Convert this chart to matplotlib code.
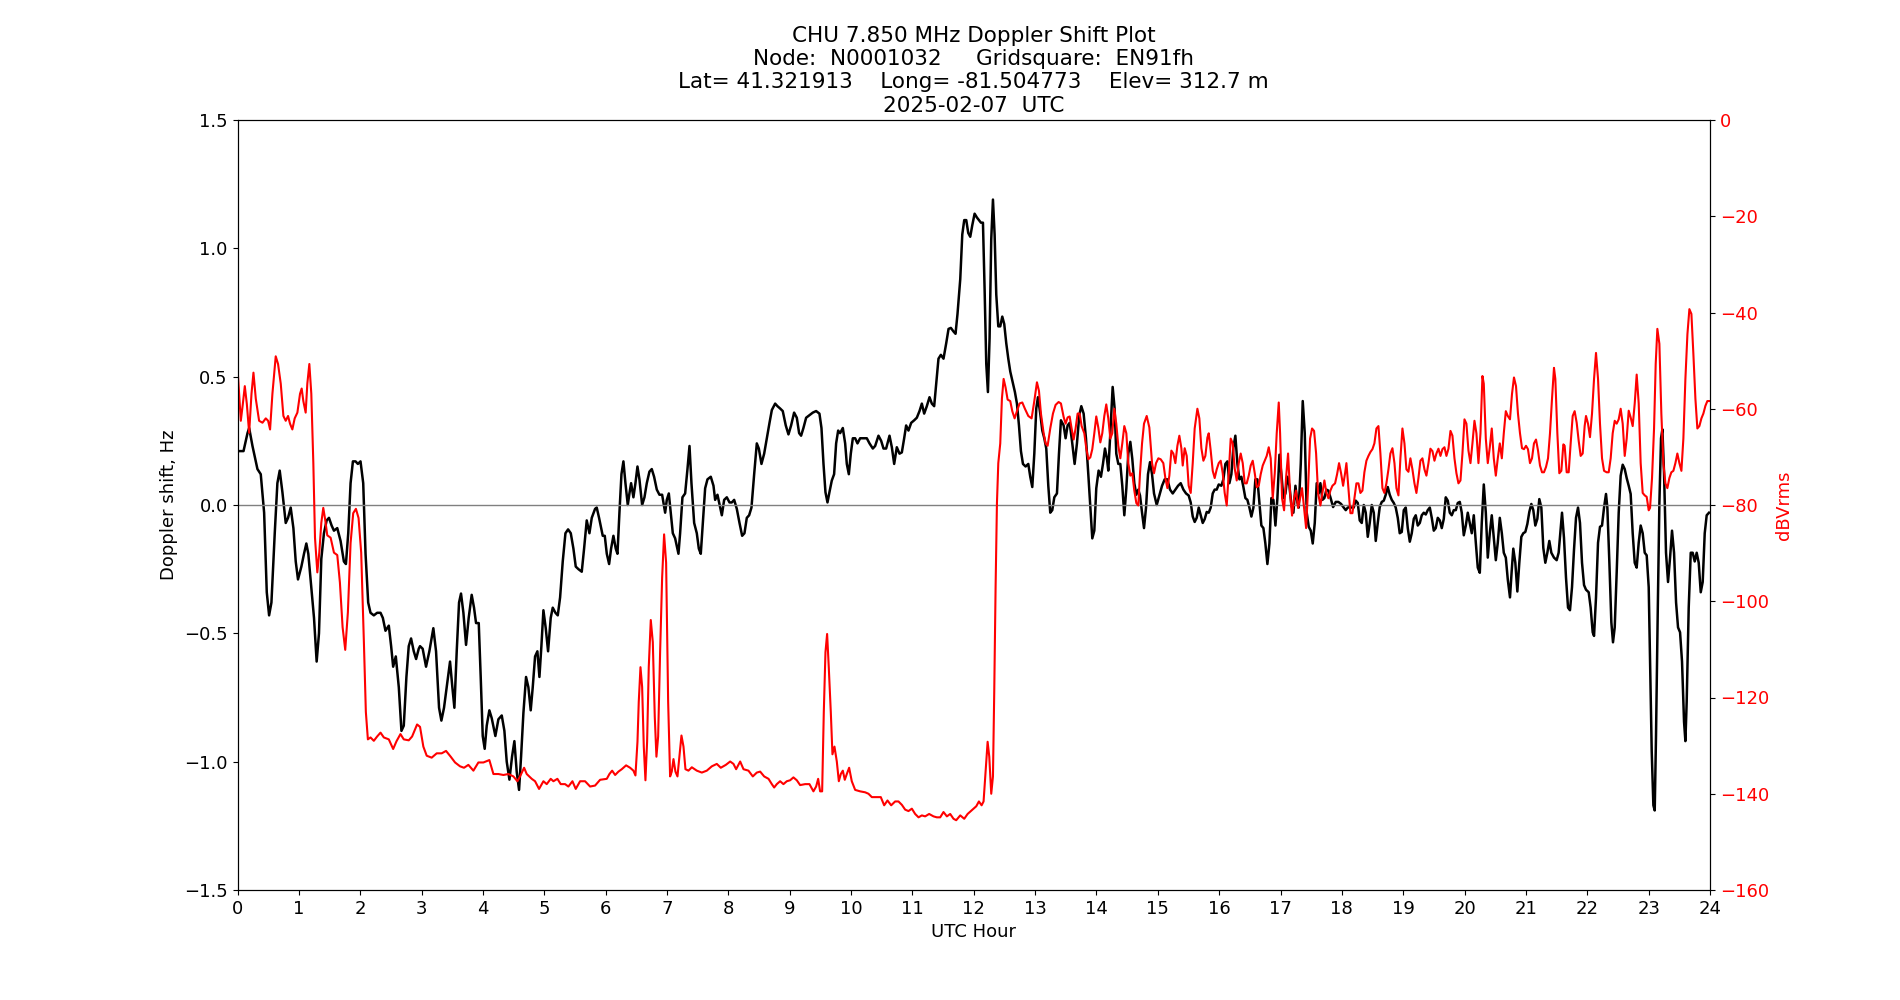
import matplotlib
matplotlib.use("Agg")
import matplotlib.pyplot as plt

# Doppler shift (Hz) vs UTC hour in 3-hour chunks
doppler_00_03 = [
    (0.0, 0.21), (0.098, 0.21), (0.163, 0.28), (0.19, 0.30), (0.244, 0.23), (0.325, 0.14),
    (0.379, 0.12), (0.434, -0.03), (0.477, -0.34), (0.515, -0.43), (0.553, -0.38), (0.607, -0.11),
    (0.650, 0.085), (0.688, 0.134), (0.732, 0.05), (0.786, -0.07), (0.824, -0.05), (0.867, -0.01),
    (0.911, -0.09), (0.949, -0.22), (0.986, -0.29), (1.041, -0.24), (1.084, -0.19), (1.122, -0.15),
    (1.154, -0.19), (1.203, -0.32), (1.247, -0.44), (1.290, -0.61), (1.328, -0.50), (1.366, -0.21),
    (1.409, -0.11), (1.453, -0.06), (1.491, -0.05), (1.534, -0.08), (1.572, -0.10), (1.626, -0.09),
    (1.680, -0.14), (1.734, -0.22), (1.767, -0.23), (1.805, -0.11), (1.843, 0.085), (1.881, 0.17),
    (1.924, 0.17), (1.962, 0.16), (2.005, 0.17), (2.049, 0.085), (2.087, -0.19), (2.130, -0.38),
    (2.168, -0.42), (2.222, -0.43), (2.276, -0.42), (2.331, -0.42), (2.369, -0.44), (2.412, -0.49),
    (2.466, -0.47), (2.504, -0.55), (2.537, -0.63), (2.580, -0.59), (2.629, -0.71), (2.672, -0.88),
    (2.710, -0.86), (2.753, -0.67), (2.791, -0.55), (2.829, -0.52), (2.873, -0.57), (2.911, -0.60),
    (2.954, -0.56),
]
doppler_03_06 = [
    (2.975, -0.55), (3.018, -0.56), (3.073, -0.63), (3.127, -0.57), (3.192, -0.48), (3.236, -0.57),
    (3.285, -0.79), (3.323, -0.84), (3.366, -0.79), (3.410, -0.71), (3.464, -0.61), (3.502, -0.71),
    (3.535, -0.79), (3.573, -0.57), (3.611, -0.38), (3.643, -0.345), (3.682, -0.42), (3.725, -0.545),
    (3.768, -0.44), (3.817, -0.35), (3.855, -0.40), (3.888, -0.46), (3.932, -0.46), (3.964, -0.67),
    (3.997, -0.90), (4.029, -0.95), (4.062, -0.86), (4.105, -0.80), (4.143, -0.83), (4.203, -0.90),
    (4.252, -0.835), (4.307, -0.82), (4.350, -0.88), (4.388, -1.0), (4.432, -1.07), (4.475, -0.98),
    (4.513, -0.92), (4.551, -1.04), (4.589, -1.11), (4.622, -0.98), (4.660, -0.81), (4.703, -0.67),
    (4.741, -0.71), (4.779, -0.80), (4.812, -0.71), (4.850, -0.59), (4.888, -0.57), (4.921, -0.67),
    (4.953, -0.55), (4.986, -0.41), (5.024, -0.48), (5.062, -0.57), (5.105, -0.44), (5.138, -0.40),
    (5.182, -0.42), (5.220, -0.43), (5.258, -0.36), (5.301, -0.22), (5.345, -0.11), (5.388, -0.095),
    (5.432, -0.11), (5.475, -0.17), (5.513, -0.24), (5.557, -0.25), (5.611, -0.26), (5.649, -0.17),
    (5.692, -0.06), (5.736, -0.11), (5.774, -0.05), (5.828, -0.015), (5.855, -0.01), (5.893, -0.05),
]
doppler_06_09 = [
    (5.910, -0.07), (5.953, -0.12), (5.986, -0.12), (6.019, -0.19), (6.057, -0.23), (6.089, -0.17),
    (6.127, -0.12), (6.165, -0.17), (6.193, -0.19), (6.225, -0.03), (6.258, 0.12), (6.290, 0.17),
    (6.323, 0.085), (6.361, 0.0), (6.388, 0.045), (6.415, 0.085), (6.453, 0.03), (6.486, 0.085),
    (6.519, 0.15), (6.551, 0.10), (6.595, 0.0), (6.633, 0.03), (6.671, 0.085), (6.714, 0.13),
    (6.752, 0.14), (6.790, 0.11), (6.834, 0.06), (6.877, 0.04), (6.921, 0.04), (6.970, -0.03),
    (6.997, 0.02), (7.030, 0.045), (7.062, -0.03), (7.095, -0.11), (7.133, -0.13), (7.187, -0.19),
    (7.214, -0.11), (7.252, 0.03), (7.296, 0.045), (7.334, 0.14), (7.367, 0.23), (7.399, 0.085),
    (7.443, -0.07), (7.486, -0.11), (7.519, -0.17), (7.551, -0.19), (7.584, -0.07), (7.622, 0.065),
    (7.660, 0.10), (7.714, 0.11), (7.758, 0.075), (7.785, 0.02), (7.823, 0.04), (7.867, -0.01),
    (7.894, -0.04), (7.932, 0.02), (7.975, 0.03), (8.019, 0.01), (8.057, 0.01), (8.095, 0.02),
    (8.138, -0.015), (8.182, -0.07), (8.225, -0.12), (8.263, -0.11), (8.301, -0.05), (8.339, -0.04),
    (8.377, -0.01), (8.421, 0.12), (8.464, 0.24), (8.497, 0.22), (8.540, 0.16), (8.584, 0.20),
    (8.627, 0.26), (8.671, 0.32), (8.709, 0.37), (8.763, 0.395), (8.801, 0.385),
]
doppler_09_12 = [
    (8.844, 0.376), (8.887, 0.366), (8.936, 0.31), (8.980, 0.275), (9.023, 0.31), (9.072, 0.36),
    (9.116, 0.34), (9.154, 0.28), (9.186, 0.27), (9.224, 0.30), (9.268, 0.34), (9.322, 0.35),
    (9.377, 0.36), (9.431, 0.366), (9.485, 0.356), (9.518, 0.30), (9.551, 0.16), (9.583, 0.05),
    (9.616, 0.01), (9.648, 0.05), (9.686, 0.095), (9.724, 0.12), (9.757, 0.24), (9.790, 0.29),
    (9.822, 0.28), (9.866, 0.30), (9.904, 0.24), (9.931, 0.16), (9.964, 0.12), (9.996, 0.20),
    (10.029, 0.26), (10.067, 0.26), (10.105, 0.24), (10.148, 0.26), (10.203, 0.26), (10.257, 0.26),
    (10.301, 0.24), (10.355, 0.22), (10.393, 0.23), (10.447, 0.27), (10.491, 0.25), (10.529, 0.22),
    (10.572, 0.22), (10.627, 0.27), (10.665, 0.225), (10.703, 0.16), (10.746, 0.225), (10.790, 0.20),
    (10.828, 0.205), (10.866, 0.26), (10.898, 0.31), (10.936, 0.29), (10.980, 0.32), (11.029, 0.33),
    (11.072, 0.34), (11.116, 0.366), (11.154, 0.395), (11.192, 0.356), (11.235, 0.385), (11.279, 0.42),
    (11.317, 0.395), (11.355, 0.385), (11.387, 0.47), (11.425, 0.57), (11.464, 0.585), (11.507, 0.57),
    (11.551, 0.63), (11.589, 0.686), (11.627, 0.69), (11.670, 0.676), (11.703, 0.667), (11.735, 0.744),
]
doppler_12_15 = [
    (11.780, 0.88), (11.813, 1.054), (11.845, 1.11), (11.878, 1.11), (11.910, 1.06), (11.943, 1.045),
    (11.976, 1.09), (12.014, 1.135), (12.052, 1.12), (12.084, 1.11), (12.117, 1.10), (12.150, 1.10),
    (12.177, 0.84), (12.204, 0.55), (12.231, 0.44), (12.258, 0.65), (12.285, 1.035), (12.313, 1.19),
    (12.340, 1.054), (12.367, 0.82), (12.400, 0.696), (12.432, 0.696), (12.465, 0.734), (12.497, 0.705),
    (12.530, 0.63), (12.563, 0.57), (12.595, 0.52), (12.633, 0.48), (12.671, 0.44), (12.704, 0.395),
    (12.737, 0.31), (12.769, 0.21), (12.802, 0.16), (12.845, 0.15), (12.889, 0.16), (12.921, 0.11),
    (12.954, 0.07), (12.987, 0.20), (13.019, 0.376), (13.046, 0.42), (13.084, 0.356), (13.117, 0.29),
    (13.150, 0.26), (13.182, 0.22), (13.215, 0.075), (13.247, -0.03), (13.280, -0.02), (13.313, 0.03),
    (13.356, 0.045), (13.389, 0.20), (13.421, 0.33), (13.465, 0.31), (13.497, 0.26), (13.530, 0.31),
    (13.563, 0.32), (13.601, 0.25), (13.644, 0.16), (13.682, 0.24), (13.720, 0.35), (13.753, 0.385),
    (13.791, 0.356), (13.829, 0.26), (13.867, 0.12), (13.900, -0.01), (13.932, -0.13), (13.965, -0.10),
    (13.997, 0.065), (14.035, 0.134), (14.073, 0.11), (14.106, 0.16), (14.139, 0.22), (14.171, 0.18),
    (14.193, 0.134), (14.226, 0.28), (14.264, 0.46), (14.296, 0.376), (14.323, 0.20), (14.356, 0.16),
    (14.389, 0.16), (14.421, 0.075), (14.454, -0.04), (14.487, 0.065), (14.519, 0.20), (14.552, 0.246),
    (14.584, 0.18), (14.617, 0.085), (14.650, 0.04), (14.682, 0.06),
]
doppler_15_18 = [
    (14.710, 0.037), (14.743, -0.03), (14.775, -0.09), (14.808, -0.01), (14.840, 0.12), (14.873, 0.167),
    (14.906, 0.12), (14.938, 0.045), (14.982, 0.0), (15.025, 0.037), (15.069, 0.075), (15.112, 0.10),
    (15.156, 0.10), (15.199, 0.06), (15.243, 0.045), (15.286, 0.06), (15.330, 0.075), (15.373, 0.085),
    (15.417, 0.06), (15.460, 0.045), (15.503, 0.037), (15.536, 0.01), (15.569, -0.045), (15.601, -0.066),
    (15.634, -0.05), (15.667, -0.01), (15.699, -0.04), (15.732, -0.07), (15.764, -0.055), (15.797, -0.027),
    (15.830, -0.03), (15.862, -0.01), (15.895, 0.045), (15.927, 0.06), (15.960, 0.06), (15.993, 0.08),
    (16.036, 0.075), (16.069, 0.10), (16.101, 0.16), (16.134, 0.17), (16.167, 0.085), (16.199, 0.12),
    (16.232, 0.225), (16.264, 0.27), (16.297, 0.16), (16.330, 0.10), (16.362, 0.11), (16.395, 0.07),
    (16.427, 0.027), (16.460, 0.02), (16.493, -0.01), (16.525, -0.045), (16.558, -0.01), (16.590, 0.10),
    (16.623, 0.10), (16.656, 0.01), (16.688, -0.08), (16.721, -0.09), (16.753, -0.15), (16.786, -0.23),
    (16.819, -0.15), (16.851, 0.027), (16.884, 0.02), (16.917, -0.08), (16.949, 0.027), (16.982, 0.196),
    (17.014, 0.12), (17.047, 0.027), (17.080, 0.045), (17.112, 0.11), (17.145, 0.075), (17.177, 0.0),
    (17.210, -0.03), (17.243, 0.075), (17.275, 0.01), (17.297, -0.01), (17.330, 0.16), (17.362, 0.405),
    (17.395, 0.28), (17.427, -0.03), (17.460, -0.085), (17.493, -0.10), (17.525, -0.15), (17.558, -0.07),
    (17.590, 0.085), (17.623, 0.045),
]
doppler_18_21 = [
    (17.650, 0.085), (17.683, 0.02), (17.715, 0.027), (17.748, 0.06), (17.780, 0.056), (17.813, 0.03),
    (17.857, -0.008), (17.900, 0.012), (17.943, 0.012), (17.987, 0.004), (18.030, -0.01), (18.063, -0.02),
    (18.096, -0.01), (18.128, -0.008), (18.161, -0.01), (18.193, -0.01), (18.226, 0.017), (18.259, 0.008),
    (18.291, -0.06), (18.324, -0.07), (18.357, 0.0), (18.389, -0.03), (18.422, -0.124), (18.454, -0.07),
    (18.487, 0.0), (18.520, -0.03), (18.552, -0.14), (18.585, -0.07), (18.617, -0.008), (18.650, 0.012),
    (18.683, 0.017), (18.715, 0.04), (18.748, 0.07), (18.780, 0.04), (18.813, 0.02), (18.846, 0.008),
    (18.878, -0.01), (18.911, -0.05), (18.943, -0.11), (18.976, -0.105), (19.009, -0.02), (19.041, -0.01),
    (19.074, -0.09), (19.107, -0.143), (19.139, -0.11), (19.172, -0.054), (19.204, -0.04), (19.237, -0.08),
    (19.270, -0.07), (19.302, -0.04), (19.335, -0.03), (19.367, -0.037), (19.400, -0.02), (19.433, -0.01),
    (19.465, -0.05), (19.498, -0.10), (19.530, -0.09), (19.563, -0.05), (19.596, -0.06), (19.628, -0.09),
    (19.661, -0.054), (19.693, 0.03), (19.726, 0.017), (19.759, -0.03), (19.791, -0.04), (19.824, -0.02),
    (19.857, -0.02), (19.889, 0.008), (19.922, 0.012), (19.954, -0.03), (19.987, -0.118), (20.020, -0.08),
    (20.052, -0.03), (20.085, -0.07), (20.117, -0.11), (20.150, -0.04), (20.183, -0.147), (20.215, -0.244),
    (20.248, -0.264), (20.280, -0.07), (20.313, 0.08), (20.346, -0.03), (20.378, -0.205), (20.411, -0.11),
    (20.443, -0.04), (20.476, -0.128), (20.509, -0.215), (20.541, -0.147), (20.574, -0.05), (20.607, -0.11),
    (20.639, -0.186), (20.672, -0.205), (20.704, -0.29),
]
doppler_21_24 = [
    (20.740, -0.36), (20.767, -0.26), (20.794, -0.17), (20.827, -0.225), (20.860, -0.337), (20.892, -0.225),
    (20.925, -0.124), (20.957, -0.11), (20.990, -0.105), (21.023, -0.074), (21.055, -0.027), (21.088, 0.004),
    (21.120, -0.02), (21.153, -0.08), (21.186, -0.054), (21.218, 0.023), (21.251, -0.01), (21.283, -0.167),
    (21.316, -0.225), (21.349, -0.186), (21.381, -0.14), (21.414, -0.186), (21.457, -0.205), (21.501, -0.215),
    (21.533, -0.186), (21.566, -0.09), (21.588, -0.03), (21.620, -0.128), (21.653, -0.283), (21.686, -0.40),
    (21.718, -0.41), (21.751, -0.32), (21.783, -0.176), (21.816, -0.05), (21.849, -0.01), (21.881, -0.07),
    (21.914, -0.225), (21.947, -0.312), (21.979, -0.33), (22.023, -0.34), (22.055, -0.40), (22.088, -0.496),
    (22.110, -0.51), (22.142, -0.36), (22.175, -0.147), (22.207, -0.085), (22.240, -0.08), (22.273, -0.01),
    (22.305, 0.043), (22.327, -0.01), (22.360, -0.225), (22.392, -0.457), (22.419, -0.535), (22.447, -0.477),
    (22.479, -0.264), (22.512, -0.03), (22.544, 0.114), (22.577, 0.157), (22.610, 0.14), (22.642, 0.105),
    (22.675, 0.075), (22.707, 0.043), (22.740, -0.11), (22.773, -0.225), (22.805, -0.244), (22.838, -0.147),
    (22.870, -0.08), (22.903, -0.11), (22.936, -0.186), (22.968, -0.196), (23.001, -0.32), (23.023, -0.61),
    (23.050, -0.96), (23.077, -1.17), (23.099, -1.19), (23.120, -0.90), (23.148, -0.42), (23.175, 0.008),
    (23.202, 0.26), (23.224, 0.295), (23.251, 0.124), (23.283, -0.186), (23.316, -0.30), (23.349, -0.205),
    (23.381, -0.10), (23.414, -0.186), (23.447, -0.38), (23.479, -0.477), (23.512, -0.496), (23.544, -0.61),
    (23.577, -0.845), (23.599, -0.92), (23.620, -0.767), (23.653, -0.40), (23.686, -0.186), (23.718, -0.186),
    (23.751, -0.22), (23.783, -0.186), (23.816, -0.225), (23.849, -0.34), (23.881, -0.30), (23.914, -0.11),
    (23.946, -0.04), (23.984, -0.03),
]

# Received level (dBVrms) vs UTC hour
power_00_03 = [
    (0.0, -51.5), (0.054, -62.5), (0.087, -59.0), (0.119, -55.3), (0.152, -59.0), (0.190, -65.0),
    (0.228, -56.9), (0.260, -52.5), (0.298, -57.9), (0.352, -62.5), (0.407, -62.9), (0.461, -62.0),
    (0.499, -62.5), (0.531, -64.3), (0.569, -56.9), (0.623, -49.1), (0.661, -50.7), (0.705, -54.8),
    (0.748, -61.5), (0.786, -62.5), (0.824, -61.5), (0.856, -63.1), (0.894, -64.3), (0.932, -62.0),
    (0.976, -60.8), (1.019, -56.9), (1.046, -55.8), (1.073, -58.4), (1.111, -60.8), (1.138, -54.8),
    (1.171, -50.7), (1.203, -56.9), (1.236, -71.3), (1.263, -86.8), (1.301, -94.0), (1.333, -89.9),
    (1.366, -83.7), (1.398, -80.6), (1.431, -83.2), (1.463, -86.3), (1.518, -86.8), (1.572, -89.9),
    (1.626, -90.4), (1.669, -96.1), (1.713, -105.4), (1.756, -110.1), (1.799, -102.3), (1.843, -87.9),
    (1.886, -81.7), (1.930, -80.8), (1.973, -82.7), (2.016, -89.9), (2.060, -108.5), (2.092, -123.0),
    (2.125, -128.7), (2.168, -128.3), (2.222, -129.0), (2.276, -128.1), (2.331, -127.3), (2.385, -128.3),
    (2.466, -128.7), (2.537, -130.7), (2.591, -129.1), (2.656, -127.6), (2.710, -128.7), (2.791, -128.9),
    (2.846, -128.1), (2.927, -125.6),
]
power_03_06 = [
    (2.975, -126.1), (3.029, -130.2), (3.084, -132.1), (3.165, -132.5), (3.247, -131.6), (3.328, -131.6),
    (3.399, -131.1), (3.475, -132.3), (3.546, -133.5), (3.627, -134.3), (3.692, -134.6), (3.763, -134.0),
    (3.845, -135.2), (3.926, -133.5), (4.008, -133.5), (4.105, -133.0), (4.171, -135.9), (4.252, -135.9),
    (4.334, -136.1), (4.415, -135.9), (4.497, -136.4), (4.562, -137.4), (4.605, -136.4), (4.671, -134.6),
    (4.714, -135.9), (4.796, -136.9), (4.850, -137.4), (4.915, -139.0), (4.986, -137.4), (5.040, -138.0),
    (5.105, -136.9), (5.149, -137.4), (5.214, -136.9), (5.268, -138.0), (5.339, -138.0), (5.393, -138.5),
    (5.459, -137.4), (5.513, -139.0), (5.584, -137.4), (5.665, -137.4), (5.747, -138.5), (5.828, -138.3),
]
power_06_09 = [
    (5.910, -137.1), (6.019, -136.9), (6.062, -135.9), (6.106, -135.2), (6.155, -136.1), (6.209, -135.4),
    (6.263, -134.9), (6.334, -134.1), (6.399, -134.6), (6.453, -135.2), (6.486, -136.2), (6.519, -129.2),
    (6.540, -120.9), (6.568, -113.7), (6.595, -117.8), (6.622, -130.2), (6.649, -137.2), (6.676, -129.2),
    (6.703, -113.7), (6.736, -103.9), (6.769, -108.5), (6.801, -124.0), (6.828, -132.3), (6.856, -128.1),
    (6.888, -110.6), (6.921, -95.1), (6.953, -86.1), (6.986, -92.0), (7.019, -120.9), (7.051, -136.4),
    (7.078, -135.4), (7.106, -132.8), (7.138, -135.4), (7.171, -136.4), (7.203, -132.3), (7.236, -127.9),
    (7.269, -130.2), (7.301, -134.9), (7.350, -135.2), (7.405, -134.5), (7.486, -135.2), (7.568, -135.6),
    (7.649, -135.2), (7.731, -134.3), (7.812, -133.8), (7.877, -134.6), (7.959, -134.0), (8.030, -133.3),
    (8.084, -133.8), (8.127, -134.9), (8.193, -133.3), (8.247, -134.9), (8.328, -135.2), (8.399, -136.4),
    (8.464, -135.6), (8.519, -135.4), (8.584, -136.4), (8.655, -136.9), (8.709, -138.0), (8.747, -138.7),
    (8.790, -138.0),
]
power_09_12 = [
    (8.844, -137.4), (8.898, -138.0), (8.953, -137.4), (9.007, -137.2), (9.061, -136.6), (9.116, -137.2),
    (9.170, -138.2), (9.252, -138.0), (9.322, -138.0), (9.387, -139.5), (9.431, -138.5), (9.464, -136.9),
    (9.496, -139.5), (9.529, -139.5), (9.556, -123.0), (9.583, -110.6), (9.610, -106.8), (9.637, -113.7),
    (9.670, -123.0), (9.697, -131.8), (9.730, -130.2), (9.768, -133.3), (9.801, -137.4), (9.833, -135.9),
    (9.866, -135.2), (9.898, -137.1), (9.931, -135.9), (9.969, -134.6), (10.012, -137.4), (10.067, -139.2),
    (10.148, -139.5), (10.230, -139.7), (10.284, -140.0), (10.339, -140.7), (10.420, -140.7), (10.485, -140.7),
    (10.540, -142.4), (10.594, -141.4), (10.654, -142.4), (10.719, -141.6), (10.773, -141.6), (10.828, -142.3),
    (10.882, -143.3), (10.936, -143.6), (10.991, -143.1), (11.045, -144.2), (11.100, -144.9), (11.154, -144.5),
    (11.208, -144.7), (11.273, -144.2), (11.344, -144.7), (11.398, -144.9), (11.453, -144.9), (11.507, -143.8),
    (11.562, -144.7), (11.616, -144.2), (11.670, -145.2), (11.714, -145.5),
]
power_12_15 = [
    (11.780, -144.5), (11.845, -145.2), (11.900, -144.2), (11.970, -143.4), (12.041, -142.6), (12.084, -141.6),
    (12.128, -142.4), (12.160, -141.6), (12.193, -135.4), (12.226, -129.2), (12.253, -132.3), (12.285, -140.0),
    (12.313, -136.4), (12.334, -118.8), (12.356, -97.1), (12.378, -79.6), (12.400, -71.3), (12.432, -67.2),
    (12.459, -57.9), (12.487, -53.8), (12.519, -55.6), (12.552, -58.1), (12.595, -58.4), (12.628, -60.5),
    (12.666, -62.0), (12.704, -60.5), (12.747, -58.9), (12.791, -58.7), (12.834, -60.0), (12.889, -61.5),
    (12.943, -62.0), (12.987, -58.4), (13.030, -54.5), (13.063, -56.3), (13.095, -61.0), (13.139, -65.1),
    (13.171, -67.2), (13.204, -67.7), (13.247, -64.1), (13.291, -61.0), (13.334, -59.2), (13.383, -58.6),
    (13.421, -58.9), (13.465, -61.7), (13.497, -63.1), (13.530, -61.8), (13.563, -61.6), (13.595, -64.1),
    (13.628, -66.4), (13.660, -64.1), (13.693, -61.0), (13.726, -61.0), (13.758, -63.6), (13.802, -65.1),
    (13.834, -68.2), (13.867, -70.5), (13.900, -70.1), (13.932, -68.4), (13.965, -65.1), (13.997, -61.6),
    (14.030, -63.9), (14.063, -67.0), (14.095, -65.1), (14.128, -61.5), (14.160, -59.1), (14.193, -62.0),
    (14.226, -66.2), (14.258, -65.1), (14.291, -60.0), (14.323, -63.1), (14.356, -67.7), (14.389, -70.3),
    (14.421, -67.2), (14.454, -63.6), (14.487, -65.1), (14.519, -71.3), (14.552, -73.9), (14.584, -73.4),
    (14.617, -77.0), (14.650, -79.6), (14.682, -80.1),
]
power_15_18 = [
    (14.710, -73.4), (14.743, -67.2), (14.775, -63.1), (14.819, -61.5), (14.862, -63.9), (14.906, -71.3),
    (14.938, -73.4), (14.971, -71.3), (15.009, -70.3), (15.047, -70.5), (15.090, -71.3), (15.123, -74.4),
    (15.156, -76.5), (15.188, -73.9), (15.221, -68.7), (15.253, -69.3), (15.286, -71.3), (15.319, -67.7),
    (15.351, -65.6), (15.384, -68.2), (15.406, -71.8), (15.438, -68.2), (15.471, -69.8), (15.503, -76.0),
    (15.536, -77.5), (15.569, -71.3), (15.601, -64.1), (15.645, -60.0), (15.677, -62.0), (15.710, -68.2),
    (15.743, -70.8), (15.775, -69.8), (15.808, -66.0), (15.830, -65.1), (15.862, -68.7), (15.895, -72.9),
    (15.927, -74.4), (15.960, -72.6), (15.993, -71.3), (16.025, -70.8), (16.058, -73.4), (16.090, -77.5),
    (16.123, -80.1), (16.156, -73.4), (16.188, -66.2), (16.221, -67.2), (16.253, -72.4), (16.286, -74.9),
    (16.319, -71.3), (16.351, -69.3), (16.384, -71.3), (16.417, -75.5), (16.449, -75.5), (16.482, -73.9),
    (16.514, -71.8), (16.547, -70.8), (16.580, -73.4), (16.612, -76.3), (16.645, -76.0), (16.677, -73.6),
    (16.710, -71.8), (16.743, -70.8), (16.775, -69.8), (16.808, -68.0), (16.840, -70.3), (16.873, -78.6),
    (16.906, -73.4), (16.938, -65.1), (16.971, -58.7), (16.993, -65.1), (17.025, -78.6), (17.058, -81.1),
    (17.090, -74.4), (17.123, -69.3), (17.156, -77.5), (17.188, -82.2), (17.221, -78.6), (17.253, -77.0),
    (17.286, -80.6), (17.319, -78.6), (17.351, -76.5), (17.384, -80.6), (17.417, -84.8), (17.449, -76.5),
    (17.482, -66.2), (17.514, -64.1), (17.547, -64.6), (17.580, -69.3), (17.612, -77.5),
]
power_18_21 = [
    (17.650, -80.1), (17.683, -77.5), (17.715, -74.9), (17.748, -77.5), (17.780, -78.6), (17.813, -77.0),
    (17.846, -76.0), (17.889, -75.5), (17.922, -73.6), (17.954, -71.3), (17.987, -73.4), (18.020, -76.0),
    (18.052, -73.4), (18.074, -71.3), (18.107, -76.5), (18.139, -81.7), (18.172, -81.7), (18.204, -78.6),
    (18.237, -75.5), (18.270, -75.5), (18.302, -77.5), (18.335, -77.0), (18.367, -73.2), (18.400, -70.8),
    (18.433, -69.8), (18.465, -69.0), (18.498, -68.4), (18.530, -67.2), (18.563, -64.1), (18.596, -63.6),
    (18.628, -69.3), (18.661, -76.5), (18.693, -77.5), (18.726, -75.5), (18.759, -72.6), (18.791, -69.3),
    (18.824, -68.2), (18.857, -71.3), (18.889, -76.5), (18.922, -78.0), (18.954, -70.3), (18.987, -64.1),
    (19.020, -67.2), (19.052, -72.6), (19.085, -73.1), (19.117, -70.3), (19.150, -72.6), (19.183, -75.5),
    (19.215, -77.5), (19.248, -74.4), (19.280, -70.8), (19.313, -70.3), (19.346, -72.6), (19.378, -73.9),
    (19.411, -71.3), (19.443, -68.3), (19.476, -68.8), (19.509, -70.8), (19.541, -69.3), (19.574, -68.3),
    (19.607, -69.8), (19.639, -68.4), (19.672, -68.0), (19.704, -69.8), (19.737, -68.3), (19.770, -64.6),
    (19.802, -65.6), (19.835, -70.3), (19.867, -73.4), (19.900, -75.5), (19.933, -74.9), (19.965, -69.3),
    (19.998, -62.2), (20.030, -63.1), (20.063, -68.7), (20.096, -71.3), (20.128, -67.2), (20.161, -62.5),
    (20.193, -65.1), (20.226, -71.3), (20.259, -65.1), (20.291, -53.2), (20.313, -54.8), (20.346, -66.2),
    (20.378, -71.3), (20.411, -68.0), (20.443, -64.1), (20.476, -70.3), (20.509, -73.9), (20.541, -70.3),
    (20.574, -67.2), (20.607, -70.3), (20.639, -65.1), (20.672, -60.5), (20.704, -61.5),
]
power_21_24 = [
    (20.740, -62.2), (20.773, -56.9), (20.805, -53.5), (20.838, -55.3), (20.870, -61.0), (20.903, -65.1),
    (20.936, -68.2), (20.968, -68.4), (21.001, -67.7), (21.033, -68.4), (21.066, -71.3), (21.099, -70.3),
    (21.131, -67.2), (21.164, -66.4), (21.197, -68.7), (21.229, -71.8), (21.262, -73.2), (21.294, -73.2),
    (21.327, -72.1), (21.360, -70.3), (21.392, -65.1), (21.425, -57.9), (21.457, -51.5), (21.479, -53.8),
    (21.512, -65.1), (21.544, -73.4), (21.577, -72.9), (21.610, -67.4), (21.631, -67.7), (21.664, -73.2),
    (21.697, -73.2), (21.729, -67.2), (21.762, -61.5), (21.794, -60.5), (21.827, -62.9), (21.860, -66.7),
    (21.892, -69.8), (21.925, -69.3), (21.957, -63.6), (21.979, -61.5), (22.012, -63.1), (22.044, -65.9),
    (22.077, -61.0), (22.110, -53.8), (22.142, -48.4), (22.175, -53.8), (22.207, -63.1), (22.240, -70.3),
    (22.273, -72.9), (22.316, -73.2), (22.349, -73.2), (22.381, -70.3), (22.414, -65.1), (22.447, -62.5),
    (22.479, -63.1), (22.512, -62.2), (22.544, -60.0), (22.577, -63.1), (22.610, -69.8), (22.642, -66.2),
    (22.675, -60.4), (22.707, -61.8), (22.740, -63.6), (22.773, -58.9), (22.805, -52.9), (22.838, -58.9),
    (22.870, -71.3), (22.903, -77.5), (22.936, -78.0), (22.968, -78.3), (23.001, -81.1), (23.023, -80.6),
    (23.055, -74.4), (23.088, -64.1), (23.115, -50.7), (23.142, -43.4), (23.175, -46.5), (23.207, -61.0),
    (23.240, -71.3), (23.273, -75.5), (23.305, -76.5), (23.338, -74.4), (23.370, -73.2), (23.403, -72.9),
    (23.436, -71.3), (23.468, -69.3), (23.501, -71.3), (23.534, -72.9), (23.566, -66.2), (23.599, -53.8),
    (23.632, -44.5), (23.664, -39.3), (23.697, -40.3), (23.729, -48.6), (23.762, -57.9), (23.794, -64.1),
    (23.827, -63.6), (23.860, -62.0), (23.892, -61.0), (23.925, -59.4), (23.957, -58.4), (23.984, -58.4),
]

hour_ticks = list(range(0, 25))

title_lines = [
    "CHU 7.850 MHz Doppler Shift Plot",
    "Node:  N0001032     Gridsquare:  EN91fh",
    "Lat= 41.321913    Long= -81.504773    Elev= 312.7 m",
    "2025-02-07  UTC",
]


def _join(*chunks):
    pts = [p for c in chunks for p in c]
    return [p[0] for p in pts], [p[1] for p in pts]


def main():
    d_hours, d_hz = _join(doppler_00_03, doppler_03_06, doppler_06_09, doppler_09_12,
                          doppler_12_15, doppler_15_18, doppler_18_21, doppler_21_24)
    p_hours, p_dbv = _join(power_00_03, power_03_06, power_06_09, power_09_12,
                           power_12_15, power_15_18, power_18_21, power_21_24)

    fig, ax = plt.subplots(figsize=(19, 10))
    ax.plot(d_hours, d_hz, color="black", linewidth=1.8)
    ax.axhline(0, color="gray", linewidth=1.0)
    ax.set_xlim(0, 24)
    ax.set_ylim(-1.5, 1.5)
    ax.set_xticks(hour_ticks)
    ax.set_xlabel("UTC Hour", fontsize=13)
    ax.set_ylabel("Doppler shift, Hz", fontsize=13)
    ax.tick_params(labelsize=13)
    ax.set_title("\n".join(title_lines), fontsize=15.5)

    ax2 = ax.twinx()
    ax2.plot(p_hours, p_dbv, color="red", linewidth=1.5)
    ax2.set_ylim(-160, 0)
    ax2.set_ylabel("dBVrms", color="red", fontsize=13)
    ax2.tick_params(axis="y", labelcolor="red", labelsize=13)

    fig.savefig("out.png", dpi=100)
    plt.close(fig)


if __name__ == "__main__":
    main()
